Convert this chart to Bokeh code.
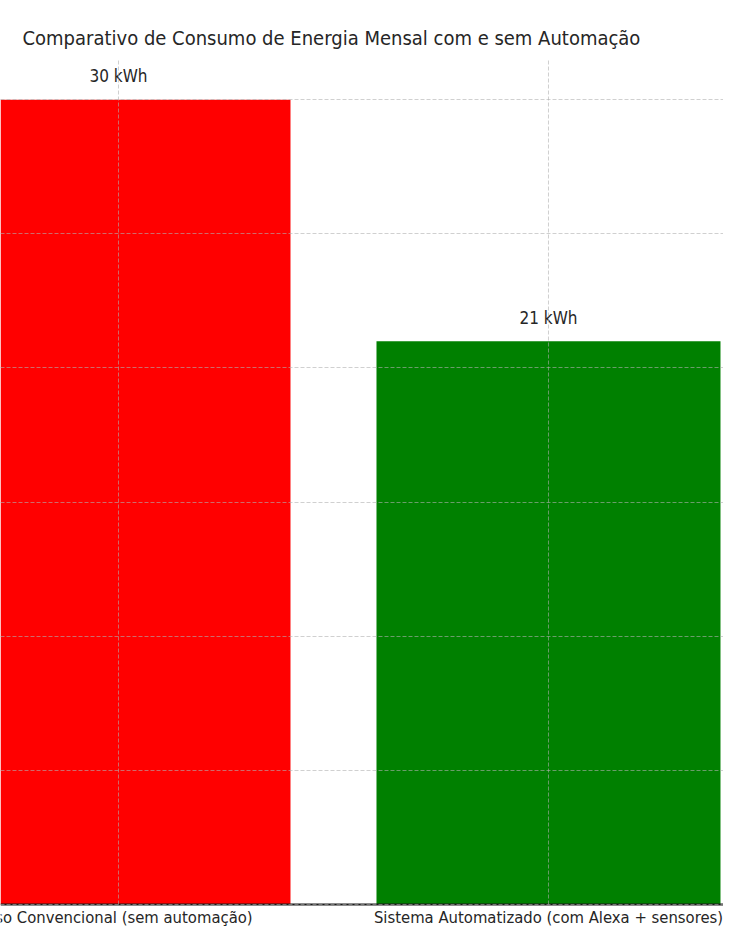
from bokeh.plotting import figure
from bokeh.models import Range1d, ColumnDataSource, LabelSet, Span, SingleIntervalTicker
from bokeh.core.properties import value
from bokeh.embed import file_html
from bokeh.resources import INLINE

# Data
categories = ["Uso Convencional (sem automação)", "Sistema Automatizado (com Alexa + sensores)"]
consumo_kwh = [30, 21]
bar_colors = ["#ff0000", "#008000"]
value_labels = [f"{v} kWh" for v in consumo_kwh]
title_text = "Comparativo de Consumo de Energia Mensal com e sem Automação"

FONT = "DejaVu Sans Condensed"
TXT = "#262626"
Y_TOP = 31.5
GRID_COLOR = "#b0b0b0"

xpos = list(range(len(categories)))
src = ColumnDataSource(dict(
    x=xpos, top=consumo_kwh, color=bar_colors,
    lab=value_labels, laby=[v + 0.5 for v in consumo_kwh],
    cat=categories, zero=[0] * len(categories), ytop=[Y_TOP] * len(categories),
))

p = figure(width=723, height=926, output_backend="svg", toolbar_location=None,
           x_range=Range1d(-0.2744, 1.407), y_range=Range1d(-0.82, Y_TOP),
           min_border_left=0, min_border_right=0, min_border_top=59, min_border_bottom=0)

p.title.text = title_text
p.title.text_font = FONT
p.title.text_font_size = "20px"
p.title.text_font_style = "normal"
p.title.text_color = TXT
p.title.align = "left"
p.title.offset = 22
p.title.standoff = 20

p.vbar(x="x", top="top", width=0.8, color="color", source=src, line_color=None)

# value labels above bars
p.add_layout(LabelSet(x="x", y="laby", text="lab", source=src, text_align="center",
                      text_baseline="bottom", text_font=value(FONT), text_font_size=value("17px"),
                      text_color=value(TXT)))

# category labels under the axis line
p.text(x="x", y="zero", text="cat", source=src, text_align="center", text_baseline="top",
       y_offset=3, text_font=value(FONT), text_font_size=value("16.5px"), text_color=TXT)

p.xaxis.visible = False
p.yaxis.visible = False
p.xgrid.visible = False

# horizontal grid (every 5 kWh), drawn above the bars
p.ygrid.ticker = SingleIntervalTicker(interval=5)
p.ygrid.grid_line_color = GRID_COLOR
p.ygrid.grid_line_alpha = 0.6
p.ygrid.grid_line_dash = "4 2"
p.ygrid.grid_line_width = 1
p.ygrid.level = "overlay"

# vertical grid lines at the category positions, from the axis to the top
p.segment(x0="x", y0="zero", x1="x", y1="ytop", source=src, line_color=GRID_COLOR,
          line_alpha=0.6, line_dash="4 2", line_width=1, level="overlay")

# x axis line
p.add_layout(Span(location=0, dimension="width", line_color="#1a1a1a", line_width=2))

p.outline_line_color = None
p.background_fill_color = "white"
p.border_fill_color = "white"

open("out.html", "w").write(file_html(p, INLINE))
